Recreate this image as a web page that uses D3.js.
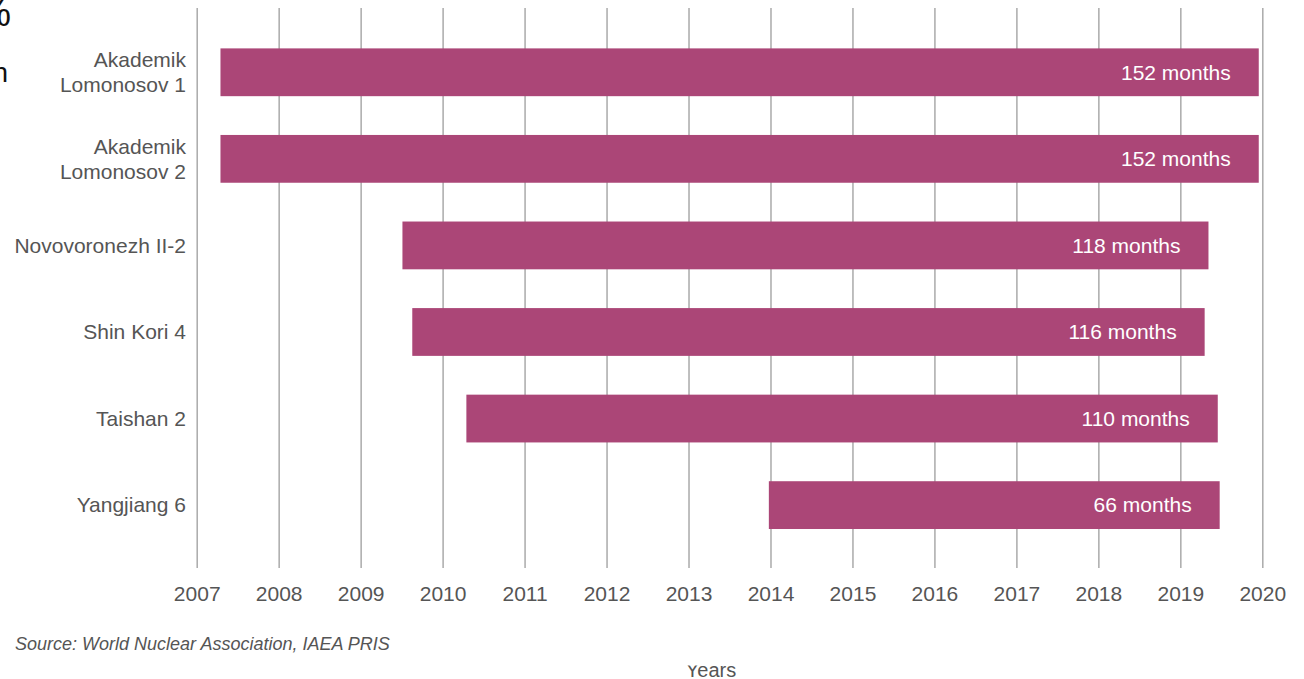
<!DOCTYPE html>
<html>
<head>
<meta charset="utf-8">
<script src="https://cdn.jsdelivr.net/npm/d3@7"></script>
<style>
  body { margin: 0; background: #fff; }
  svg { display: block; }
  text { font-family: "Helvetica Neue", "Liberation Sans", Arial, sans-serif; }
</style>
</head>
<body>
<script>
// plant names (some split over two lines)
const plants = [
  ["Akademik", "Lomonosov 1"],
  ["Akademik", "Lomonosov 2"],
  ["Novovoronezh II-2"],
  ["Shin Kori 4"],
  ["Taishan 2"],
  ["Yangjiang 6"]
];
// construction start (decimal year) and duration in months
const startYears = [2007.29, 2007.29, 2009.51, 2009.63, 2010.29, 2013.98];
const months = [152, 152, 118, 116, 110, 66];
const years = d3.range(2007, 2021);

const W = 1304, H = 679;
const svg = d3.select("body").append("svg")
  .attr("width", W)
  .attr("height", H);

const x = d3.scaleLinear()
  .domain([2007, 2020])
  .range([196.7, 1262.3]);

const y = d3.scaleBand()
  .domain(d3.range(plants.length))
  .range([29, 548.4])
  .paddingInner(0.448)
  .paddingOuter(0.224);

// cut-off glyphs at the left edge of the source image
svg.append("text").attr("x", 11).attr("y", 26)
  .attr("text-anchor", "end").attr("font-size", 38).attr("fill", "#111").text("%");
svg.append("text").attr("x", 8).attr("y", 82)
  .attr("text-anchor", "end").attr("font-size", 28).attr("fill", "#111").text("h");

// vertical grid lines + year labels via an axis
const xAxis = d3.axisBottom(x)
  .tickValues(years)
  .tickFormat(d3.format("d"))
  .tickSize(560)
  .tickSizeOuter(0);

const gx = svg.append("g")
  .attr("transform", "translate(0,8)")
  .call(xAxis);
gx.select(".domain").remove();
gx.selectAll(".tick line").attr("stroke", "#aaa").attr("stroke-width", 1.5);
gx.selectAll(".tick text")
  .attr("y", 593)
  .attr("dy", 0)
  .attr("font-size", 21)
  .attr("font-weight", 300)
  .attr("fill", "#555")
  .attr("font-family", null);

// bars
const rows = plants.map((p, i) => ({
  name: p, start: startYears[i], end: startYears[i] + months[i] / 12, m: months[i], i
}));

svg.append("g").selectAll("rect")
  .data(rows)
  .join("rect")
  .attr("x", d => x(d.start))
  .attr("y", d => y(d.i))
  .attr("width", d => x(d.end) - x(d.start))
  .attr("height", y.bandwidth())
  .attr("fill", "#ab4677");

svg.append("g").selectAll("text")
  .data(rows)
  .join("text")
  .attr("x", d => x(d.end) - 28)
  .attr("y", d => y(d.i) + y.bandwidth() / 2)
  .attr("dy", "0.35em")
  .attr("text-anchor", "end")
  .attr("font-size", 21)
  .attr("font-weight", 300)
  .attr("fill", "#fff")
  .text(d => d.m + " months");

// category labels
const lab = svg.append("g").selectAll("text")
  .data(rows)
  .join("text")
  .attr("text-anchor", "end")
  .attr("font-size", 21)
  .attr("font-weight", 300)
  .attr("fill", "#555")
  .attr("y", d => y(d.i) + y.bandwidth() / 2);

lab.each(function(d) {
  const t = d3.select(this);
  const n = d.name.length;
  d.name.forEach((line, k) => {
    t.append("tspan")
      .attr("x", 186)
      .attr("dy", k === 0 ? ((0.35 - (n - 1) * 0.6) + "em") : "1.2em")
      .text(line);
  });
});

// source note
svg.append("text")
  .attr("x", 15)
  .attr("y", 650)
  .attr("font-size", 18)
  .attr("font-style", "italic")
  .attr("font-weight", 300)
  .attr("fill", "#555")
  .text("Source: World Nuclear Association, IAEA PRIS");

// axis title, top part hidden like in the cropped original
svg.append("clipPath").attr("id", "cut")
  .append("rect").attr("x", 0).attr("y", 665.5).attr("width", W).attr("height", 20);
svg.append("text")
  .attr("x", 711)
  .attr("y", 677)
  .attr("clip-path", "url(#cut)")
  .attr("text-anchor", "middle")
  .attr("font-size", 20)
  .attr("font-weight", 300)
  .attr("fill", "#555")
  .text("Years");
</script>
</body>
</html>
